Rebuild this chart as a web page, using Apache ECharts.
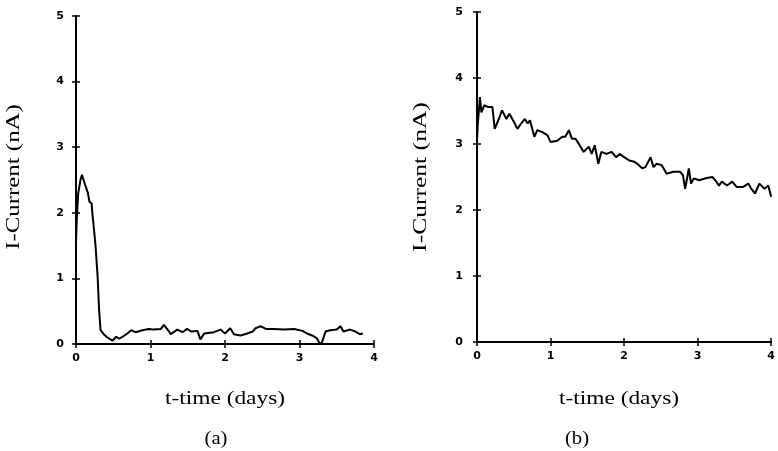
<!DOCTYPE html>
<html>
<head>
<meta charset="utf-8">
<script src="https://cdn.jsdelivr.net/npm/echarts@6/dist/echarts.min.js"></script>
<style>
  html, body { margin: 0; padding: 0; background: #fff; }
  #chart { width: 778px; height: 451px; }
</style>
</head>
<body>
<div id="chart"></div>
<script>
// panel (a) - current vs time
var timeA = [0, 0.01, 0.03, 0.06, 0.08, 0.11, 0.16, 0.18, 0.21, 0.22, 0.26, 0.29, 0.31, 0.33, 0.38,
  0.42, 0.49, 0.54, 0.58, 0.65, 0.69, 0.74, 0.80, 0.89, 0.98, 1.03, 1.14, 1.18, 1.25, 1.27,
  1.36, 1.43, 1.49, 1.55, 1.63, 1.67, 1.72, 1.85, 1.94, 2.00, 2.07, 2.12, 2.21, 2.30, 2.37,
  2.41, 2.48, 2.55, 2.66, 2.79, 2.93, 3.04, 3.10, 3.17, 3.23, 3.27, 3.30, 3.35, 3.41, 3.50,
  3.55, 3.59, 3.68, 3.75, 3.81, 3.85];
var currentA = [1.55, 1.9, 2.3, 2.5, 2.58, 2.47, 2.30, 2.17, 2.14, 1.99, 1.53, 1.03, 0.52, 0.21, 0.14,
  0.10, 0.05, 0.11, 0.08, 0.13, 0.16, 0.21, 0.18, 0.21, 0.23, 0.22, 0.23, 0.29, 0.19, 0.15,
  0.22, 0.18, 0.23, 0.19, 0.20, 0.07, 0.16, 0.18, 0.22, 0.16, 0.24, 0.15, 0.13, 0.16, 0.19,
  0.24, 0.27, 0.23, 0.23, 0.22, 0.23, 0.20, 0.16, 0.13, 0.09, 0.01, 0.02, 0.19, 0.21, 0.22,
  0.27, 0.19, 0.22, 0.19, 0.15, 0.16];

// panel (b)
var timeB = [0, 0.01, 0.04, 0.06, 0.10, 0.15, 0.21, 0.24, 0.29, 0.34, 0.40, 0.44, 0.49, 0.55, 0.60,
  0.65, 0.69, 0.72, 0.78, 0.82, 0.89, 0.96, 1.00, 1.09, 1.16, 1.20, 1.25, 1.29, 1.34, 1.38,
  1.45, 1.52, 1.56, 1.60, 1.65, 1.69, 1.76, 1.83, 1.89, 1.94, 2.00, 2.07, 2.14, 2.18, 2.25,
  2.29, 2.36, 2.40, 2.44, 2.51, 2.58, 2.67, 2.76, 2.80, 2.83, 2.86, 2.88, 2.91, 2.95, 3.02,
  3.11, 3.20, 3.24, 3.29, 3.33, 3.40, 3.47, 3.53, 3.62, 3.69, 3.73, 3.78, 3.84, 3.91, 3.96, 4.00];
var currentB = [3.05, 3.28, 3.71, 3.48, 3.59, 3.56, 3.56, 3.23, 3.36, 3.51, 3.38, 3.46, 3.36, 3.23, 3.31,
  3.38, 3.31, 3.36, 3.11, 3.21, 3.18, 3.13, 3.03, 3.05, 3.11, 3.11, 3.21, 3.08, 3.08, 3.01,
  2.88, 2.96, 2.85, 2.98, 2.70, 2.88, 2.85, 2.88, 2.80, 2.85, 2.80, 2.75, 2.73, 2.70, 2.63,
  2.65, 2.80, 2.65, 2.70, 2.68, 2.55, 2.58, 2.58, 2.53, 2.32, 2.50, 2.63, 2.40, 2.48, 2.45,
  2.48, 2.50, 2.45, 2.37, 2.43, 2.37, 2.43, 2.35, 2.35, 2.40, 2.32, 2.25, 2.40, 2.32, 2.37, 2.20];

var xTicks = [0, 1, 2, 3, 4];
var yTicks = [0, 1, 2, 3, 4, 5];

function pairs(xs, ys) {
  var out = [];
  for (var i = 0; i < xs.length; i++) out.push([xs[i], ys[i]]);
  return out;
}

var tickFont = { color: '#000', fontFamily: 'DejaVu Sans', fontWeight: 'bold', fontSize: 11 };
var serif = 'Liberation Serif';
var xMax = xTicks[xTicks.length - 1], yMax = yTicks[yTicks.length - 1];

// main axis: line + labels
function xMain(grid) {
  return {
    type: 'value', gridIndex: grid, min: 0, max: xMax, interval: 1,
    axisLine: { lineStyle: { color: '#000', width: 2 } },
    axisTick: { show: false },
    axisLabel: Object.assign({ margin: 9 }, tickFont),
    splitLine: { show: false }
  };
}
function yMain(grid, margin) {
  return {
    type: 'value', gridIndex: grid, min: 0, max: yMax, interval: 1,
    axisLine: { show: true, lineStyle: { color: '#000', width: 2 } },
    axisTick: { show: false },
    axisLabel: Object.assign({ margin: margin }, tickFont),
    splitLine: { show: false }
  };
}
// ghost axes pulled 4px inward: their ticks cross the real axis line
function xCross(grid) {
  return {
    type: 'value', gridIndex: grid, min: 0, max: xMax, interval: 1, position: 'bottom', offset: -4,
    axisLine: { show: false },
    axisTick: { show: true, length: 8, lineStyle: { color: '#000', width: 1.5 } },
    axisLabel: { show: false }, splitLine: { show: false }
  };
}
function yCross(grid) {
  return {
    type: 'value', gridIndex: grid, min: 0, max: yMax, interval: 1, position: 'left', offset: -4,
    axisLine: { show: false },
    axisTick: { show: true, length: 8, lineStyle: { color: '#000', width: 1.5 } },
    axisLabel: { show: false }, splitLine: { show: false }
  };
}

function txt(x, y, s, size, sx, rot) {
  return {
    type: 'text', x: x, y: y, rotation: rot || 0, scaleX: sx, scaleY: 1,
    style: { text: s, fill: '#000', font: size + 'px "' + serif + '"', align: 'center', verticalAlign: 'middle' }
  };
}

var myChart = echarts.init(document.getElementById('chart'));
myChart.setOption({
  backgroundColor: '#fff',
  animation: false,
  grid: [
    { left: 76, top: 16, width: 298, height: 328 },
    { left: 477, top: 12, width: 299, height: 330 }
  ],
  xAxis: [xMain(0), xMain(1), xCross(0), xCross(1)],
  yAxis: [yMain(0, 12), yMain(1, 14), yCross(0), yCross(1)],
  series: [
    {
      type: 'line', xAxisIndex: 0, yAxisIndex: 0, data: pairs(timeA, currentA),
      showSymbol: false, lineStyle: { color: '#000', width: 2 }
    },
    {
      type: 'line', xAxisIndex: 1, yAxisIndex: 1, data: pairs(timeB, currentB),
      showSymbol: false, lineStyle: { color: '#000', width: 2 }
    }
  ],
  graphic: [
    txt(14, 177, 'I-Current (nA)', 18, 1.38, Math.PI / 2),
    txt(421, 177, 'I-Current (nA)', 18, 1.42, Math.PI / 2),
    txt(225, 399, 't-time (days)', 18, 1.3),
    txt(619, 399, 't-time (days)', 18, 1.3),
    txt(216, 439, '(a)', 18, 1.15),
    txt(577, 439, '(b)', 18, 1.15)
  ]
});
window.onresize = myChart.resize;
</script>
</body>
</html>
